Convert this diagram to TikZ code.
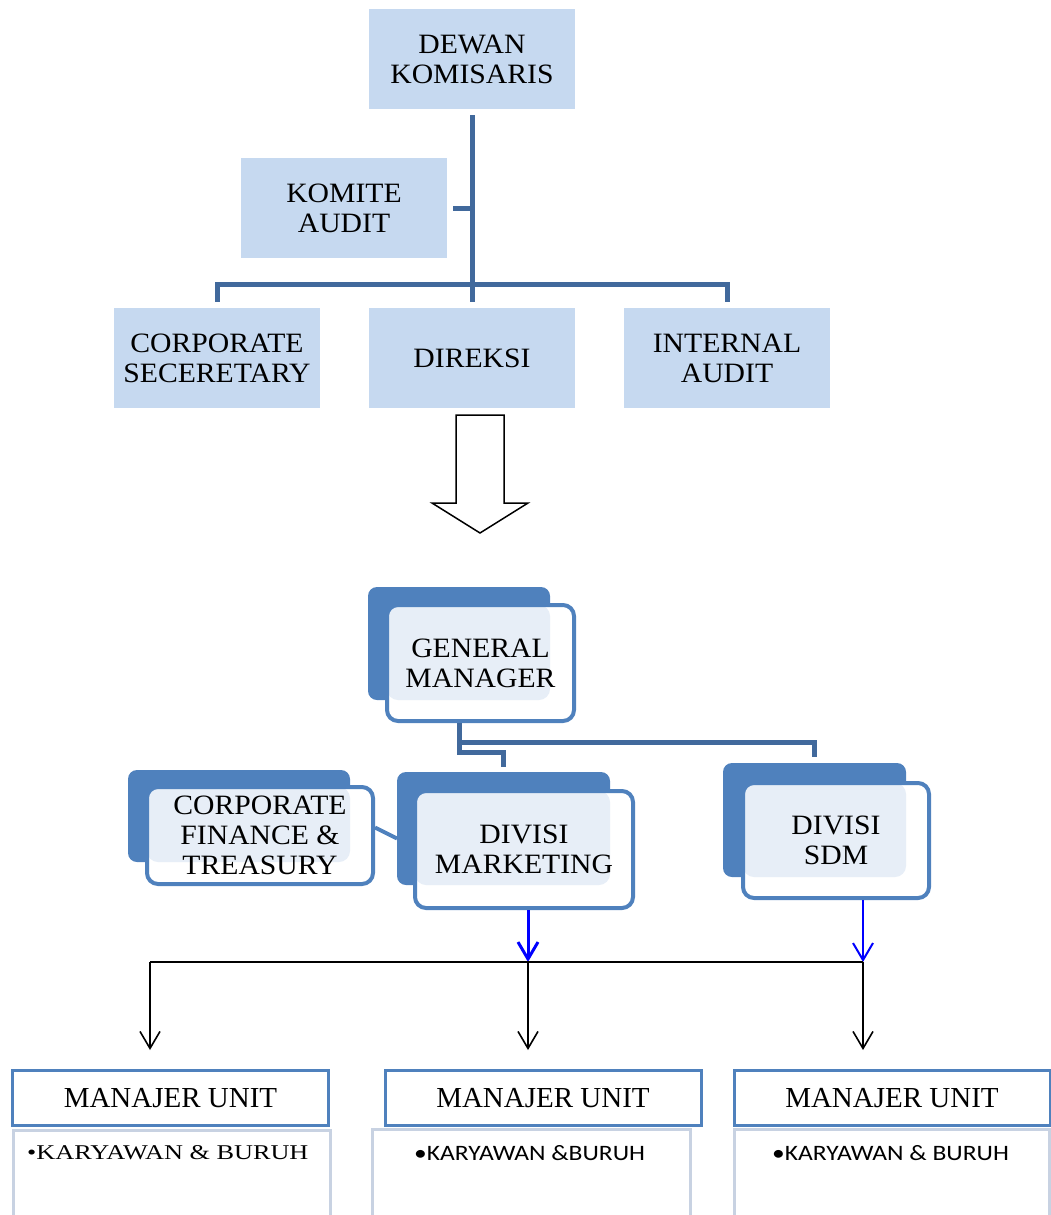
\documentclass[tikz,border=0pt]{standalone}
\usepackage{fontspec}
\setmainfont{Liberation Serif}
\newfontfamily\wideserif{Liberation Serif}[FakeStretch=1.06]
\newfontfamily\staffserif{Liberation Serif}[FakeStretch=1.25]
\newfontfamily\staffsans{Carlito}[FakeStretch=1.16]
\usetikzlibrary{positioning,arrows.meta,calc}
\definecolor{boxblue}{RGB}{198,217,240}
\definecolor{accent}{RGB}{79,129,189}
\definecolor{linedark}{RGB}{65,105,156}
\definecolor{paleblue}{RGB}{231,238,247}
\definecolor{bodyline}{RGB}{200,210,226}

\begin{document}
\begin{tikzpicture}
    [x=1pt,y=-1pt,>={Straight Barb[length=17pt,width=20pt]},
     boxlabel/.style={align=center,font=\wideserif\fontsize{28}{30}\selectfont,inner sep=0pt},
     topbox/.style={boxlabel,fill=boxblue,minimum width=206pt,minimum height=100pt},
     orgline/.style={linedark,line width=5pt},
     backbox/.style={fill=accent,rounded corners=9pt,inner sep=0pt},
     frontbox/.style 2 args={boxlabel,draw=accent,line width=4pt,fill=white,rounded corners=11pt,
        path picture={\fill[paleblue] (path picture bounding box.north west) rectangle ++(#1,#2);}},
     unitbox/.style={draw=accent,line width=3pt,fill=white,minimum width=316pt,minimum height=55pt,
        inner sep=0pt,font=\fontsize{29}{30}\selectfont},
     bodybox/.style={draw=bodyline,line width=3pt,fill=white},
     staff/.style={inner sep=0pt,anchor=west},
     flow/.style={->,line width=1.6pt},
     blueflow/.style={->,blue,line width=3pt}]

    \useasboundingbox (0,0) rectangle (1051,1215);

    % board and directors
    \node[topbox] (dewan) at (472,59) {DEWAN\\KOMISARIS};
    \node[topbox] (komite) at (344,208) {KOMITE\\AUDIT};
    \node[topbox] (corsec) at (217,358) {CORPORATE\\SECERETARY};
    \node[topbox] (direksi) at (472,358) {DIREKSI};
    \node[topbox] (internal) at (727,358) {INTERNAL\\AUDIT};
    \coordinate (hub) at (472,284);

    \draw[orgline,shorten <=6pt,shorten >=6pt] (dewan.south) -- (direksi.north);
    \draw[orgline,shorten <=6pt] (komite.east) -- (komite.east -| dewan.south);
    \draw[orgline,shorten <=6pt,shorten >=6pt] (corsec.north) |- (hub) -| (internal.north);

    % hollow arrow
    \draw[line width=1.5pt,line join=miter] (456,415) -- (504,415) -- (504,503) -- (528,503)
        -- (480,533) -- (432,503) -- (456,503) -- cycle;

    % management
    \node[backbox,minimum width=182pt,minimum height=113pt] (gmb) at (459,643.5) {};
    \node[frontbox={163}{95},minimum width=187pt,minimum height=116pt] (gm) at (480.5,663) {GENERAL\\MANAGER};

    \node[backbox,minimum width=222pt,minimum height=92pt] (cftb) at (239,816) {};
    \node[frontbox={203}{75},minimum width=226pt,minimum height=97pt] (cft) at (260,835.5)
        {CORPORATE\\FINANCE \&\\TREASURY};

    \draw[accent,line width=4pt] ([yshift=8pt]cft.east) -- ([yshift=-10pt]397,828.5);

    \node[backbox,minimum width=213pt,minimum height=113pt] (mktb) at (503.5,828.5) {};
    \node[frontbox={195}{94},minimum width=218pt,minimum height=117pt] (mkt) at (524,849.5)
        {DIVISI\\MARKETING};

    \node[backbox,minimum width=183pt,minimum height=114pt] (sdmb) at (814.5,820) {};
    \node[frontbox={163}{94},minimum width=186pt,minimum height=115pt] (sdm) at (836,840.5)
        {DIVISI\\SDM};

    \coordinate (gmfoot) at (459,723);
    \draw[orgline,shorten >=5pt] (gmfoot) -- ++(0,29) -| (mktb.north);
    \draw[orgline,shorten >=6pt] (gmfoot) ++(0,19) -| (sdmb.north);

    % units
    \draw[bodybox] (13,1130) rectangle (330,1222);
    \draw[bodybox] (372,1129) rectangle (690,1222);
    \draw[bodybox] (734,1129) rectangle (1049,1222);

    \node[unitbox] (unit1) at (170.5,1098) {MANAJER UNIT};
    \node[unitbox] (unit2) at (543,1098) {MANAJER UNIT};
    \node[unitbox] (unit3) at (892,1098) {MANAJER UNIT};

    \node[staff,font=\staffserif\fontsize{21}{24}\selectfont] (staff1) at (27,1153) {\textbullet KARYAWAN \& BURUH};
    \node[staff,font=\staffsans\fontsize{22}{24}\selectfont] (staff2) at (414,1153) {\textbullet KARYAWAN \&BURUH};
    \node[staff,font=\staffsans\fontsize{22}{24}\selectfont] (staff3) at (772,1153) {\textbullet KARYAWAN \& BURUH};

    % flows
    \coordinate (bus1) at (150,962);
    \coordinate (bus2) at (528,962);
    \coordinate (bus3) at (863,962);
    \draw[blueflow] (mkt.south -| bus2) -- (bus2);
    \draw[blueflow,line width=2pt] (sdm.south -| bus3) -- (bus3);
    \draw[line width=1.6pt] (bus1) -- (bus3);
    \foreach \i in {1,2,3}
        \draw[flow,shorten >=19pt] (bus\i) -- (bus\i |- unit\i.north);

\end{tikzpicture}
\end{document}
